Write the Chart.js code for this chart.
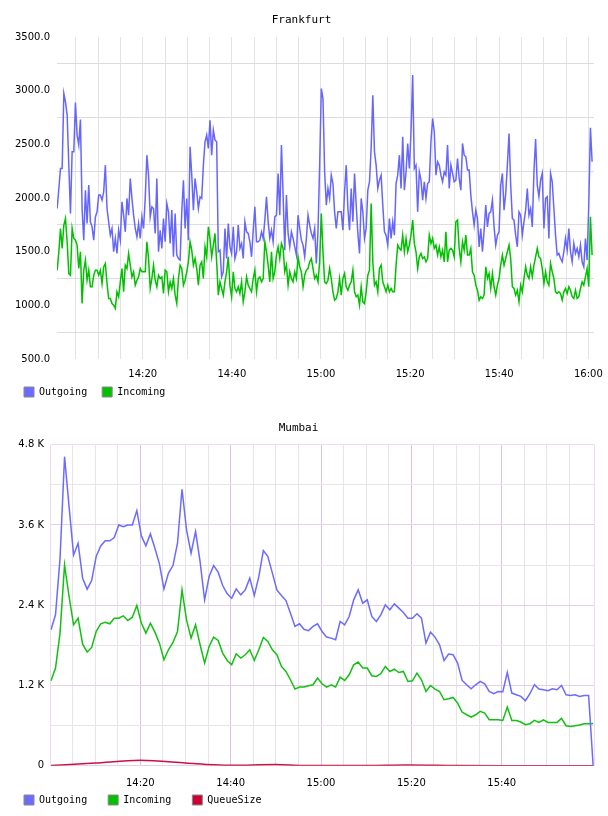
<!DOCTYPE html>
<html><head><meta charset="utf-8">
<script src="https://cdn.jsdelivr.net/npm/chart.js@4.4.1/dist/chart.umd.min.js"></script>
<style>
html,body{margin:0;padding:0;background:#fff;width:608px;height:816px;overflow:hidden}
#w1{position:absolute;left:0;top:0;width:608px;height:408px}
#w2{position:absolute;left:0;top:408px;width:608px;height:408px}
</style></head><body>
<div id="w1"><canvas id="c1" width="608" height="408"></canvas></div>
<div id="w2"><canvas id="c2" width="608" height="408"></canvas></div>
<script>
// ---------- Frankfurt ----------
const fraTitle = 'Frankfurt';
const fraStartMinute = 0.8;      // minutes after 14:00 of first sample
const fraSampleMinutes = 0.3728; // sample interval (minutes)
const fraOutgoing = [
1902,2089,2275,2275,2974,2896,2772,2306,1855,2430,2430,2890,2586,2493,2731,1902,1607,2073,1762,2120,1778,1731,1607,1824,1871,2027,2027,1980,2058,2306,1902,1778,1654,1716,1499,1623,1483,1700,1607,1965,1840,1685,1996,1840,2182,1996,1840,1716,1638,1762,1623,1824,1716,1996,2399,2213,1824,1918,1902,1670,2182,1499,1700,1530,1809,1592,1949,1871,1576,1887,1452,1856,1468,1436,1421,1871,2166,1716,1996,1607,2477,
2213,1887,2182,2058,1902,2011,1996,2306,2524,2586,2462,2725,2399,2632,2539,2524,1499,1514,1265,1312,1716,1436,1762,1545,1483,1731,1436,1499,1747,1530,1576,1436,1778,1685,1670,1592,1452,1700,1918,1592,1592,1607,1685,1623,1794,2011,1778,1623,1700,1592,1824,1840,2228,1840,2493,2027,1514,2027,1670,1545,1685,1623,1545,1468,1840,1716,1607,1561,1452,1623,1840,1747,1670,1623,1716,1390,1685,2306,3020,2927,
2244,1934,2089,1996,2213,2135,1871,1716,1871,1871,1871,1700,2058,2306,1902,1700,2089,1778,2229,1934,1670,1483,1996,1871,1623,1716,2073,2151,2462,2958,2430,2306,2089,2166,2213,1934,1685,1654,1561,1809,1623,1778,1654,2135,2213,2399,2089,2570,2073,2244,2508,2275,2617,3145,2275,2306,1871,2244,2166,1980,2151,1996,2135,2151,2524,2741,2617,2213,2337,2306,2213,2151,2244,2213,2493,2089,2306,2229,2151,2166,
2368,2182,2073,2508,2399,2384,2260,2260,2027,1871,1747,1887,1809,1545,1716,1499,1700,1934,1731,1856,1871,1980,1731,1561,1654,1685,2120,2229,1887,2042,2306,2601,2120,1809,1794,1654,1545,1871,1840,1654,1778,1887,2089,1840,1902,1731,2244,2549,2120,2011,2166,2229,1716,1996,2011,1623,2229,2151,1902,1654,1468,1483,1436,1405,1499,1623,1514,1716,1499,1405,1576,1483,1530,1452,1561,1405,1359,1623,1421,1934,2654,2337
];
const fraIncoming = [
1327,1499,1716,1530,1747,1809,1592,1296,1281,1716,1623,1607,1561,1343,1499,1017,1327,1421,1234,1327,1172,1172,1281,1327,1327,1281,1327,1203,1358,1390,1203,1064,1064,1017,1002,971,1126,1080,1219,1343,1126,1374,1343,1483,1374,1265,1312,1188,1234,1265,1343,1312,1312,1312,1592,1436,1157,1250,1374,1234,1172,1281,1250,1265,1110,1327,1312,1126,1219,1157,1250,1095,1017,1250,1374,1343,1188,1234,1312,1405,1592,
1514,1374,1436,1343,1188,1374,1405,1250,1545,1452,1731,1623,1452,1561,1670,1405,1095,1219,1157,1095,1219,1312,1452,1188,1080,1312,1157,1126,1173,1110,1219,1033,1126,1265,1188,1157,1126,1250,1328,1126,1250,1265,1219,1250,1592,1499,1374,1219,1499,1250,1312,1468,1545,1436,1576,1530,1312,1374,1188,1312,1250,1219,1312,1250,1452,1359,1312,1173,1281,1328,1343,1405,1436,1343,1250,1281,1219,1405,1856,1499,
1219,1203,1234,1343,1250,1126,1048,1064,1126,1250,1095,1250,1297,1173,1141,1188,1219,1328,1126,1080,1095,1002,1173,1033,1017,1126,1281,1328,1949,1405,1188,1219,1126,1343,1374,1219,1173,1126,1188,1126,1157,1126,1126,1374,1561,1530,1514,1654,1499,1623,1499,1561,1654,1794,1576,1499,1343,1452,1483,1436,1452,1405,1436,1654,1576,1623,1530,1561,1468,1545,1452,1514,1405,1685,1405,1514,1530,1514,1452,1778,
1794,1530,1405,1592,1514,1654,1468,1468,1530,1312,1281,1188,1141,1048,1080,1064,1095,1359,1250,1297,1157,1297,1173,1095,1188,1250,1374,1468,1374,1436,1499,1561,1436,1173,1157,1095,1141,1033,1188,1126,1250,1359,1281,1250,1359,1265,1374,1452,1530,1452,1436,1343,1204,1312,1219,1188,1390,1312,1250,1126,1110,1126,1110,1048,1126,1157,1110,1173,1141,1080,1064,1141,1064,1080,1157,1219,1188,1265,1343,1173,1825,1468
];
const fraXGridMinutes = [5,10,15,20,25,30,35,40,45,50,55,60,65,70,75,80,85,90,95,100,105,110,115,120];
const fraXTickMinutes = [20,40,60,80,100,120];
const fraXTickLabels = ['14:20','14:40','15:00','15:20','15:40','16:00'];
const fraYTickValues = [500,1000,1500,2000,2500,3000,3500];
const fraYTickLabels = ['500.0','1000.0','1500.0','2000.0','2500.0','3000.0','3500.0'];
const fraYGridValues = [750,1250,1750,2250,2750,3250];

// ---------- Mumbai ----------
const mumTitle = 'Mumbai';
const mumStartMinute = 0.23;
const mumSampleMinutes = 1;
const mumOutgoing = [
2032,2256,3100,4621,3874,3152,3327,2804,2640,2769,3127,3287,3362,3362,3411,3600,3575,3600,3600,3814,3436,3287,3466,3252,3018,2644,2879,2993,3327,4134,3526,3178,3501,3052,2480,2828,2993,2894,2694,2570,2505,2644,2555,2629,2804,2545,2828,3217,3127,2879,2629,2545,2470,2281,2082,2122,
2040,2020,2082,2122,2007,1923,1908,1883,2156,2107,2231,2480,2629,2430,2480,2231,2156,2256,2405,2331,2420,2356,2291,2206,2206,2271,2206,1833,1997,1923,1808,1574,1669,1659,1534,1275,1210,1150,1210,1260,1225,1110,1076,1110,1105,1394,1086,1061,1036,971,1076,1210,1146,1136,1121,1150,1136,1200,1061,1051,1061,1036,1051,1051,0
];
const mumIncoming = [
1270,1460,1983,3003,2530,2107,2206,1818,1699,1768,2007,2122,2146,2122,2206,2206,2241,2171,2221,2395,2132,1983,2132,1997,1833,1584,1733,1843,2007,2629,2181,1908,2107,1808,1534,1783,1923,1873,1684,1574,1509,1674,1609,1659,1733,1574,1733,1918,1858,1733,1659,1484,1409,1285,1146,1176,
1176,1195,1210,1310,1225,1176,1210,1176,1324,1275,1360,1509,1549,1460,1460,1345,1335,1375,1484,1409,1445,1394,1409,1260,1270,1384,1285,1110,1200,1146,1110,986,1001,1021,936,802,762,727,762,812,787,687,687,687,677,877,677,677,653,613,628,677,647,687,647,647,647,707,598,588,598,608,628,628,630
];
const mumQueueMinutes = [0.23,10,20,30,36,40,50,56,70,79,90,100,110,120.23];
const mumQueueSize = [3,40,80,42,15,5,18,3,2,10,2,0,0,0];
const mumXGridMinutes = [5,10,15,20,25,30,35,40,45,50,55,60,65,70,75,80,85,90,95,100,105,110,115];
const mumXTickMinutes = [20,40,60,80,100];
const mumXTickLabels = ['14:20','14:40','15:00','15:20','15:40'];
const mumYTickValues = [0,1200,2400,3600,4800];
const mumYTickLabels = ['0','1.2 K','2.4 K','3.6 K','4.8 K'];
const mumYGridValues = [600,1800,3000,4200];

// ---------- helpers ----------
const SANS = '"DejaVu Sans", Verdana, sans-serif';
const MONO = '"DejaVu Sans Mono", monospace';
function series(start, step, values){ return values.map((v,i)=>({x:start+i*step, y:v})); }
function pairs(xs, ys){ return ys.map((v,i)=>({x:xs[i], y:v})); }
function has(arr, v){ return arr.some(a=>Math.abs(a-v)<1e-6); }
function pick(vals, labels, v){ const i = vals.findIndex(a=>Math.abs(a-v)<1e-6); return i<0 ? '' : labels[i]; }
function legendLabels(chart){
  return chart.data.datasets.map((ds,i)=>({text:ds.label, fillStyle:ds.legendColor, strokeStyle:'#8a8a8a', lineWidth:1, hidden:false, datasetIndex:i, fontColor:'#000'}));
}
function setTicks(list){ return ax => { ax.ticks = list.map(v=>({value:v})); }; }

// ---------- Frankfurt chart ----------
new Chart(document.getElementById('c1'), {
  type:'line',
  data:{datasets:[
    {label:'Outgoing', data:series(fraStartMinute, fraSampleMinutes, fraOutgoing), borderColor:'#6666ff', legendColor:'#6b6bff', borderWidth:1.5, pointRadius:0, tension:0},
    {label:'Incoming', data:series(fraStartMinute, fraSampleMinutes, fraIncoming), borderColor:'#00c000', legendColor:'#00c000', borderWidth:1.5, pointRadius:0, tension:0}
  ]},
  options:{
    responsive:false, animation:false, events:[],
    layout:{padding:{left:9,right:14,top:0,bottom:1}},
    plugins:{
      title:{display:true, text:fraTitle, color:'#000', font:{family:MONO,size:11,weight:'normal'}, padding:{top:14,bottom:9.8}},
      legend:{display:true, position:'bottom', align:'start', labels:{boxWidth:10, boxHeight:10, padding:15, color:'#000', font:{family:MONO,size:10}, generateLabels:legendLabels}},
      tooltip:{enabled:false}
    },
    scales:{
      x:{type:'linear', min:0.76, max:121.27,
         afterBuildTicks:setTicks(fraXGridMinutes),
         afterFit:ax=>{ax.height=13;},
         ticks:{autoSkip:false, maxRotation:0, mirror:true, padding:-21, color:'#000', font:{family:SANS,size:10}, callback:v=>pick(fraXTickMinutes, fraXTickLabels, v)},
         grid:{drawTicks:false, color:'#e3e3e3'}, border:{display:false}},
      y:{type:'linear', min:500, max:3500,
         afterBuildTicks:setTicks([...fraYTickValues, ...fraYGridValues].sort((a,b)=>a-b)),
         afterFit:ax=>{ax.width=48;},
         ticks:{autoSkip:false, padding:7, color:'#000', font:{family:SANS,size:10}, callback:v=>pick(fraYTickValues, fraYTickLabels, v)},
         grid:{drawTicks:false, color:c=>has(fraYGridValues, c.tick.value) ? '#dddddd' : 'rgba(0,0,0,0)'}, border:{display:false}}
    }
  }
});

// ---------- Mumbai chart ----------
const mumXMin = 0.12, mumXMax = 120.42;
new Chart(document.getElementById('c2'), {
  type:'line',
  data:{datasets:[
    {label:'Outgoing', data:series(mumStartMinute, mumSampleMinutes, mumOutgoing), borderColor:'#6b6bff', legendColor:'#6b6bff', borderWidth:1.5, pointRadius:0, tension:0},
    {label:'Incoming', data:series(mumStartMinute, mumSampleMinutes, mumIncoming), borderColor:'#12c012', legendColor:'#00c000', borderWidth:1.5, pointRadius:0, tension:0},
    {label:'QueueSize', data:pairs(mumQueueMinutes, mumQueueSize), borderColor:'#cc1040', legendColor:'#cc0033', borderWidth:1.5, pointRadius:0, cubicInterpolationMode:'monotone'}
  ]},
  options:{
    responsive:false, animation:false, events:[],
    layout:{padding:{left:3,right:14,top:0,bottom:1}},
    plugins:{
      title:{display:true, text:mumTitle, color:'#000', font:{family:MONO,size:11,weight:'normal'}, padding:{top:14,bottom:9.5}},
      legend:{display:true, position:'bottom', align:'start', labels:{boxWidth:10, boxHeight:10, padding:21, color:'#000', font:{family:MONO,size:10}, generateLabels:legendLabels}},
      tooltip:{enabled:false}
    },
    scales:{
      x:{type:'linear', min:mumXMin, max:mumXMax,
         afterBuildTicks:setTicks([mumXMin, ...mumXGridMinutes, mumXMax]),
         afterFit:ax=>{ax.height=8.3;},
         ticks:{autoSkip:false, maxRotation:0, mirror:true, padding:-23.5, color:'#000', font:{family:SANS,size:10}, callback:v=>pick(mumXTickMinutes, mumXTickLabels, v)},
         grid:{drawTicks:false, color:c=>{const v=c.tick.value; if(Math.abs(v-mumXMin)<1e-6||Math.abs(v-mumXMax)<1e-6) return '#eedcee'; return has(mumXTickMinutes, v) ? '#dcc3dc' : '#e7e3e7';}},
         border:{display:false}},
      y:{type:'linear', min:0, max:4800,
         afterBuildTicks:setTicks([...mumYTickValues, ...mumYGridValues].sort((a,b)=>a-b)),
         afterFit:ax=>{ax.width=47.5;},
         ticks:{autoSkip:false, padding:6.5, color:'#000', font:{family:SANS,size:10}, callback:v=>pick(mumYTickValues, mumYTickLabels, v)},
         grid:{drawTicks:false, color:c=>{const v=c.tick.value; if(v===4800) return '#eedcee'; return has(mumYTickValues, v) ? '#e6d0e6' : '#e7e5e7';}},
         border:{display:false}}
    }
  }
});
</script>
</body></html>
